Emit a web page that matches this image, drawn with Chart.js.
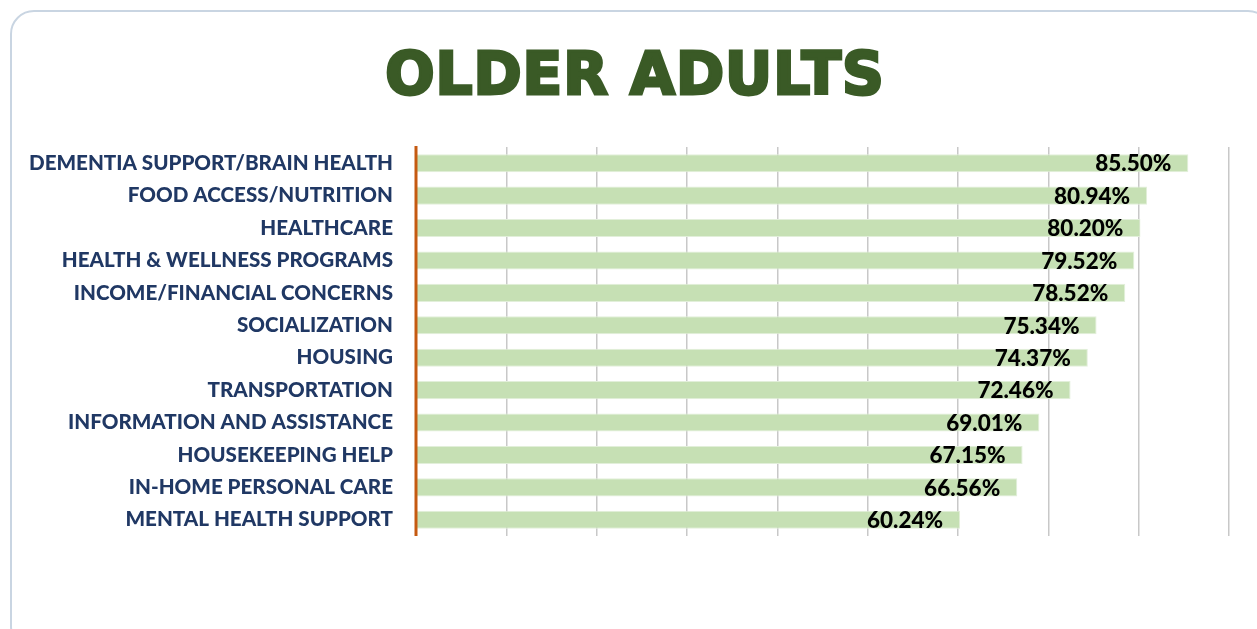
<!DOCTYPE html>
<html>
<head>
<meta charset="utf-8">
<script src="https://cdn.jsdelivr.net/npm/chart.js@4.4.1/dist/chart.umd.min.js"></script>
<style>
  html, body { margin: 0; padding: 0; background: #fff; }
  body { width: 1257px; height: 629px; position: relative; overflow: hidden; }
  .card {
    position: absolute; left: 10px; top: 10px; width: 1262px; height: 640px;
    border: 2.5px solid #c9d5e2; border-radius: 24px; box-sizing: border-box;
  }
  h1 {
    position: absolute; left: 0; width: 1270px; top: 34px; margin: 0;
    text-align: center; font-family: "DejaVu Sans", sans-serif; font-weight: bold;
    font-size: 58px; line-height: 80px; color: #3a5a26; letter-spacing: 1px;
    -webkit-text-stroke: 3px #3a5a26;
  }
  #wrap { position: absolute; left: 0; top: 0; width: 1257px; height: 629px; }
</style>
</head>
<body>
<div class="card"></div>
<h1>OLDER ADULTS</h1>
<div id="wrap"><canvas id="chart" width="1257" height="629"></canvas></div>
<script>
const categories = [
  'DEMENTIA SUPPORT/BRAIN HEALTH',
  'FOOD ACCESS/NUTRITION',
  'HEALTHCARE',
  'HEALTH & WELLNESS PROGRAMS',
  'INCOME/FINANCIAL CONCERNS',
  'SOCIALIZATION',
  'HOUSING',
  'TRANSPORTATION',
  'INFORMATION AND ASSISTANCE',
  'HOUSEKEEPING HELP',
  'IN-HOME PERSONAL CARE',
  'MENTAL HEALTH SUPPORT'
];
const percentages = [85.50, 80.94, 80.20, 79.52, 78.52, 75.34, 74.37, 72.46, 69.01, 67.15, 66.56, 60.24];
const axisMax = 90;

// value text just inside each bar end, plus the orange category axis on top of the bars
const barOverlay = {
  id: 'barOverlay',
  afterDatasetsDraw(chart) {
    const ctx = chart.ctx;
    const area = chart.chartArea;
    const meta = chart.getDatasetMeta(0);
    ctx.save();
    ctx.font = '900 22.5px Lato, sans-serif';
    ctx.fillStyle = '#000';
    ctx.textAlign = 'right';
    ctx.textBaseline = 'middle';
    meta.data.forEach((bar, i) => {
      ctx.fillText(percentages[i].toFixed(2) + '%', bar.x - 17, bar.y + 1);
    });
    ctx.strokeStyle = '#c55a11';
    ctx.lineWidth = 3;
    ctx.beginPath();
    ctx.moveTo(area.left, area.top - 1);
    ctx.lineTo(area.left, area.bottom);
    ctx.stroke();
    ctx.restore();
  }
};

new Chart(document.getElementById('chart'), {
  type: 'bar',
  data: {
    labels: categories,
    datasets: [{
      data: percentages,
      backgroundColor: '#c6e0b4',
      borderColor: '#e2efda',
      borderWidth: 1,
      borderSkipped: 'start',
      barPercentage: 0.56,
      categoryPercentage: 1
    }]
  },
  options: {
    indexAxis: 'y',
    responsive: false,
    animation: false,
    layout: { padding: { top: 147, right: 28, bottom: 93, left: 0 } },
    plugins: { legend: { display: false }, tooltip: { enabled: false } },
    scales: {
      x: {
        min: 0, max: axisMax,
        ticks: { display: false, stepSize: 10 },
        grid: { color: '#c8c8c8', lineWidth: 1.5, drawTicks: false },
        border: { display: false }
      },
      y: {
        afterFit(scale) { scale.width = 416; },
        ticks: {
          color: '#203864', padding: 23,
          font: { family: 'Lato, sans-serif', weight: '900', size: 20.6 }
        },
        grid: { display: false, drawTicks: false },
        border: { display: false }
      }
    }
  },
  plugins: [barOverlay]
});
</script>
</body>
</html>
